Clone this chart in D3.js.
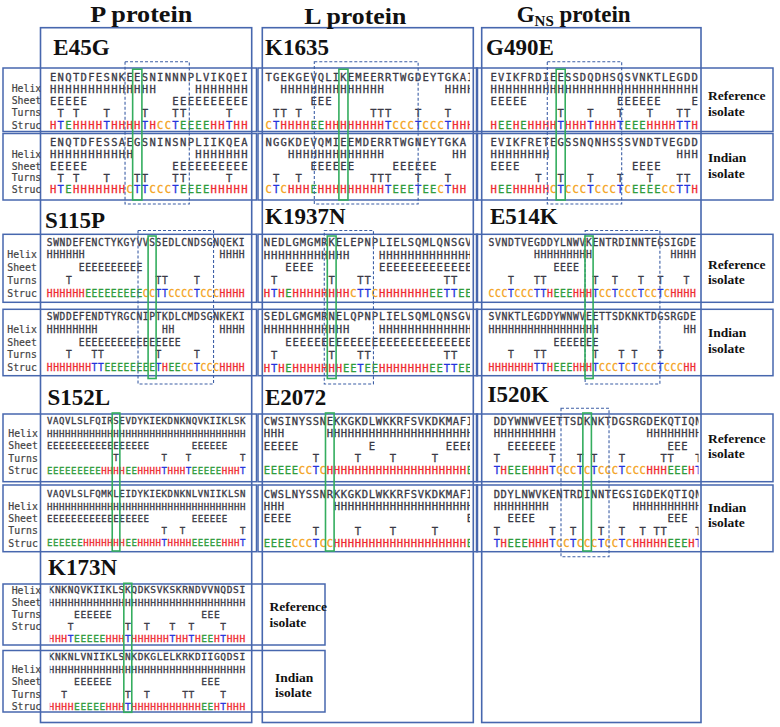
<!DOCTYPE html>
<html><head><meta charset="utf-8">
<script src="https://cdn.jsdelivr.net/npm/d3@7"></script>
<style>body{margin:0;background:#fff}</style>
</head><body>
<svg id="c" width="780" height="727"></svg>
<script>
// ===================== DATA =====================
const proteinTitles = ["P protein", "L protein", "GNS protein"];
const trackNames = ["Helix", "Sheet", "Turns", "Struc"];
const isolateNames = [["Reference", "isolate"], ["Indian", "isolate"]];

const mutationLabels = ["E45G","S115P","S152L","K173N","K1635","K1937N","E2072","G490E","E514K","I520K"];
const mutationColumn = [0,0,0,0,1,1,1,2,2,2];
const mutationRow    = [0,1,2,3,0,1,2,0,1,2];
const mutationSite   = [11,16,11,12,10,9,9,9,15,13];
const windowSpan     = [[9.9,18.3],[14.3,26.1],null,null,[6.6,20.5],[8.47,15.3],null,[7.7,17.7],[14.9,26.4],[9.74,16.65]];

// [sequence, helix runs, sheet runs, turn positions, structure string]
const E45G_ref  = ["ENQTDFESNKEESNINNNPLVIKQEI", [[0,13],[19,25]], [[0,4],[16,25]], [1,3,7,12,16,17,23], "HTEHHHHTHHHHTHCCTEEEEHHTHH"];
const E45G_ind  = ["ENQTDFESSAEGSNINSNPLIIKQEA", [[0,10],[19,25]], [[0,4],[16,25]], [1,3,7,11,12,16,17,23], "HTEHHHHHHHCTTCCCTEEEEHHHHH"];
const S115P_ref = ["SWNDEFENCTYKGYVVSSEDLCNDSGNQEKI", [[0,5],[27,30]], [[5,14]], [3,17,18,23], "HHHHHHEEEEEEEEECCTTCCCCTCCCHHHH"];
const S115P_ind = ["SWDDEFENDTYRGCNIPTKDLCMDSGNKEKI", [[0,7],[18,19],[27,30]], [[5,20]], [3,7,8,17,23], "HHHHHHHTTEEEEEEEETHEECCTCCCHHHH"];
const S152L_ref = ["VAQVLSLFQIRSEVDYKIEKDNKNQVKIIKLSK", [[0,32]], [[0,16],[24,29]], [11,19,23,32], "EEEEEEEEEHHHHEEHHHHTHHHTEEEEEHHHT"];
const S152L_ind = ["VAQVLSLFQMKLEIDYKIEKDNKNLVNIIKLSN", [[0,32]], [[0,16],[24,29]], [19,22,32], "EEEEEEHHHHHHHEEHHHHTHHHHEEEEEHHHT"];
const K173N_ref = ["KNKNQVKIIKLSKQDKSVKSKRNDVVNQDSI", [[0,30]], [[4,9],[24,26]], [3,12,15,19,22,27], "HHHTEEEEEHHHTHHHHHHTHHTHEEHTHHH"];
const K173N_ind = ["KNKNLVNIIKLSNKDKGLELKRKDIIGQDSI", [[0,30]], [[4,9],[24,26]], [2,12,15,21,22,27], "HHHHEEEEEHHHTHHHHHHHHHHHEEHTHHH"];
const K1635_ref = ["TGEKGEVQLIKEMEERRTWGDEYTGKAI", [[2,15],[24,27]], [[6,8]], [1,2,4,14,15,16,20,24], "CTHHHHEEHHHHHHHHTCCCTCCCTHHH"];
const K1635_ind = ["NGGKDEVQMIEEMDERRTWGNEYTGKA", [[3,15],[25,26]], [[6,11],[17,22]], [1,4,14,15,16,20,24], "CTCHHHEHHHHHHHHHTEEETEECTHH"];
const K1937N_ref = ["NEDLGMGMRKELEPNPLIELSQMLQNSGV", [[0,11],[16,28]], [[3,6],[16,28]], [1,9,13,14,25,26], "HTHEHHHHHHHHCTTCHHHHHHHEETTEE"];
const K1937N_ind = ["SEDLGMGMRNELQPNPLIELSQMLQNSGV", [[0,11],[16,28]], [[3,28]], [1,9,13,14,25,26], "HTHEHHHHHHHEETEEHHHHHHHEETTEE"];
const E2072_ref = ["CWSINYSSNEKKGKDLWKKRFSVKDKMAFI", [[0,2],[9,29]], [[0,4],[15,15],[26,29]], [7,13,18,24], "EEEEECCTCHHHHHHHHHHHHHHHHHHHHE"];
const E2072_ind = ["CWSLNYSSNRKKGKDLWKKRFSVKDKMAFI", [[0,2],[10,29]], [[0,3],[29,29]], [7,13,18,24], "EEEECCCTCCHHHHHHHHHHHHHHHHHHHE"];
const G490E_ref = ["EVIKFRDIEESSDQDHSQSVNKTLEGDD", [[0,27]], [[0,4],[17,22],[27,27]], [9,13,17,21,25,26], "HEEHEHHHHTHHHTHHHTEEEHHHHTTH"];
const G490E_ind = ["EVIKFRETEGSSNQNHSSSVNDTVEGDD", [[0,7],[25,27]], [[0,3],[19,22]], [6,9,13,17,21,25,26], "HEEHHHHHCTCCCTCCCTCEEEECCTTH"];
const E514K_ref = ["SVNDTVEGDDYLNWVKENTRDINNTEGSIGDE", [[7,15],[28,31]], [[10,13]], [3,7,8,16,19,23,26,30], "CCCTCCCTTHEEEHHHTCCTCCCTCCTCHHHH"];
const E514K_ind = ["SVNKTLEGDDYWNWVEETTSDKNKTDGSRGDE", [[0,16],[30,31]], [[10,16]], [3,7,8,16,20,22,26], "HHHHHHHTTHEEEHHHTCCCTCTCCCTCCCHH"];
const I520K_ref = ["DDYWNWVEETTSDKNKTDGSRGDEKQTIQN", [[0,8],[22,29]], [[2,8],[25,27]], [0,8,12,14,18,24,25,29], "THEEEHHHTCCCTCTCCCTCCCHHHEEEHT"];
const I520K_ind = ["DDYLNWVKENTRDINNTEGSIGDEKQTIQN", [[0,7],[20,29]], [[2,5],[25,27]], [0,8,11,15,18,21,23,24,29], "THEEEHHHTCCTCCCTCCTCHHHHHEEEHT"];

const panelData = {
  E45G:[E45G_ref,E45G_ind], S115P:[S115P_ref,S115P_ind], S152L:[S152L_ref,S152L_ind], K173N:[K173N_ref,K173N_ind],
  K1635:[K1635_ref,K1635_ind], K1937N:[K1937N_ref,K1937N_ind], E2072:[E2072_ref,E2072_ind],
  G490E:[G490E_ref,G490E_ind], E514K:[E514K_ref,E514K_ind], I520K:[I520K_ref,I520K_ind]
};

// ===================== LAYOUT / STYLE =====================
const BLUE = "#4767ae", DASH = "#3d5fa6", GREEN = "#34ad5e", GRAY = "#3a3a46";
const strucColor = {H:"#ee2a30", E:"#2f9c3c", T:"#2433dc", C:"#f4a41e"};
const serif = "'Liberation Serif','Times New Roman',serif";
const mono = "'DejaVu Sans Mono',monospace";

const colBox = [[40.5,251.7],[262.3,473.3],[481.7,701]];
const colBoxY = [27.7, 722.5];
const colClipRight = [249, 470, 698.5];
const rowBoxX = [[3,256.5],[258,477.5],[476.5,773]];
const rowBoxXLast = [3,325];
const rowLayout = [
  {ref:[76.7,125], ind:[142.5,189.5], refBox:[68,131.5], indBox:[133.5,200], dash:[61.7,204], green:[69.2,200], trackX:11.7, refShift:0},
  {ref:[242,293], ind:[316.5,367.7], refBox:[234.3,302.3], indBox:[309.3,375.7], dash:[230.5,384], green:[236,378.5], trackX:7.3, refShift:0},
  {ref:[421,470.5], ind:[494,543], refBox:[414,481.7], indBox:[485,551.7], dash:[408.3,556.7], green:[413,551], trackX:8.3, refShift:0},
  {ref:[590,638.5], ind:[656.7,706.7], refBox:[584,645], indBox:[650.5,712], dash:null, green:[583.3,712.3], trackX:11.7, refShift:1}
];
const panelLayout = {
  E45G:{x0:49.3,w:7.65,lx:53.3,ly:55},   S115P:{x0:46.5,w:6.4,lx:45,ly:228},
  S152L:{x0:46.7,w:6.03,lx:47.5,ly:405}, K173N:{x0:48.3,w:6.36,lx:48,ly:575,clipLeft:49.8},
  K1635:{x0:265,w:7.47,lx:265,ly:55},    K1937N:{x0:263.3,w:7.2,lx:265,ly:223.5},
  E2072:{x0:263.3,w:7.0,lx:265,ly:405},  G490E:{x0:490,w:7.44,lx:486,ly:54.5},
  E514K:{x0:488.3,w:6.5,lx:490,ly:223.5},I520K:{x0:493.3,w:6.95,lx:487.5,ly:402}
};
const isoLabelPos = [
  {xr:708, xi:708, ref:[95.7,111], ind:[157.7,173.3]},
  {xr:708, xi:708, ref:[264.3,279.3], ind:[332.7,348.3]},
  {xr:708, xi:708, ref:[438.3,453.3], ind:[507.3,522.7]},
  {xr:269.5, xi:275, ref:[606.7,622], ind:[677.5,692.7]}
];

// ===================== DRAW =====================
const svg = d3.select("#c");
const defs = svg.append("defs");

// row boxes
rowLayout.forEach((r, ri) => {
  const xs = ri === 3 ? [rowBoxXLast] : rowBoxX;
  xs.forEach(([a,b]) => {
    [r.refBox, r.indBox].forEach(([y0,y1]) => {
      svg.append("rect").attr("x",a).attr("y",y0).attr("width",b-a).attr("height",y1-y0)
        .attr("fill","none").attr("stroke",BLUE).attr("stroke-width",1.5);
    });
  });
});
// column boxes
colBox.forEach(([a,b]) => {
  svg.append("rect").attr("x",a).attr("y",colBoxY[0]).attr("width",b-a).attr("height",colBoxY[1]-colBoxY[0])
    .attr("fill","none").attr("stroke",BLUE).attr("stroke-width",1.6);
});

// column titles
svg.append("text").attr("x",141.3).attr("y",22).attr("text-anchor","middle")
  .attr("font-family",serif).attr("font-weight","bold").attr("font-size",23)
  .attr("textLength",102).attr("lengthAdjust","spacingAndGlyphs").attr("fill","#111").text(proteinTitles[0]);
svg.append("text").attr("x",355.3).attr("y",23.5).attr("text-anchor","middle")
  .attr("font-family",serif).attr("font-weight","bold").attr("font-size",23)
  .attr("textLength",102).attr("lengthAdjust","spacingAndGlyphs").attr("fill","#111").text(proteinTitles[1]);
{
  const t = svg.append("text").attr("x",516.7).attr("y",21.5).attr("font-family",serif)
    .attr("font-weight","bold").attr("fill","#111");
  const parts = proteinTitles[2].match(/^G(NS)( .*)$/);
  t.append("tspan").attr("font-size",23).text("G");
  t.append("tspan").attr("font-size",15).attr("dy",4).text(parts[1]);
  t.append("tspan").attr("font-size",23).attr("dy",-4).text(parts[2]);
}

// track-name clip
defs.append("clipPath").attr("id","clipLab").append("rect").attr("x",0).attr("y",0).attr("width",40.5).attr("height",727);

const tracks5 = ["seq"].concat(trackNames);

function trackChars(rec) {
  const [seq, helix, sheet, turns, struc] = rec;
  const out = [];
  seq.split("").forEach((c,i) => out.push({t:"seq",i,c}));
  helix.forEach(([a,b]) => d3.range(a,b+1).forEach(i => out.push({t:"Helix",i,c:"H"})));
  sheet.forEach(([a,b]) => d3.range(a,b+1).forEach(i => out.push({t:"Sheet",i,c:"E"})));
  turns.forEach(i => out.push({t:"Turns",i,c:"T"}));
  struc.split("").forEach((c,i) => out.push({t:"Struc",i,c}));
  return out;
}

mutationLabels.forEach((name, k) => {
  const col = mutationColumn[k], row = mutationRow[k];
  const L = panelLayout[name], R = rowLayout[row];
  const x = d3.scaleLinear().domain([0,1]).range([L.x0, L.x0 + L.w]);
  const fs = Math.min(10.5, L.w * 1.5);
  const clipLeft = L.clipLeft !== undefined ? L.clipLeft : colBox[col][0] + 0.5;
  const cid = "clip-" + name;
  defs.append("clipPath").attr("id",cid).append("rect")
    .attr("x",clipLeft).attr("y",0).attr("width",colClipRight[col]-clipLeft).attr("height",727);

  // mutation label
  svg.append("text").attr("x",L.lx).attr("y",L.ly).attr("font-family",serif).attr("font-weight","bold")
    .attr("font-size",23).attr("fill","#111").text(name);

  const g = svg.append("g").attr("clip-path",`url(#${cid})`);
  panelData[name].forEach((rec, iso) => {
    const y = d3.scalePoint().domain(tracks5).range(iso === 0 ? R.ref : R.ind);
    g.append("g").selectAll("text").data(trackChars(rec)).join("text")
      .attr("x", d => x(d.i + 0.5))
      .attr("y", d => y(d.t) + fs * 0.365)
      .attr("text-anchor","middle")
      .attr("font-family",mono).attr("font-size",fs)
      .attr("fill", d => d.t === "Struc" ? (strucColor[d.c] || GRAY) : GRAY)
      .attr("stroke", d => d.t === "Struc" ? (strucColor[d.c] || GRAY) : GRAY)
      .attr("stroke-width",0.3)
      .text(d => d.c);

    if (col === 0) {
      const shift = iso === 0 ? R.refShift : 0;
      svg.append("g").attr("clip-path","url(#clipLab)").selectAll("text").data(trackNames).join("text")
        .attr("x", R.trackX)
        .attr("y", (d,j) => y(tracks5[j + 1 - shift]) + 3.5)
        .attr("font-family",mono).attr("font-size",9.8).attr("fill","#444")
        .attr("stroke","#444").attr("stroke-width",0.2)
        .text(d => d);
    }
  });

  // dashed window
  const span = windowSpan[k];
  if (span && R.dash) {
    svg.append("rect").attr("x",x(span[0])).attr("y",R.dash[0])
      .attr("width",x(span[1]) - x(span[0])).attr("height",R.dash[1]-R.dash[0])
      .attr("fill","none").attr("stroke",DASH).attr("stroke-width",1.1).attr("stroke-dasharray","3,2");
  }
  // mutation site highlight
  const s = mutationSite[k];
  svg.append("rect").attr("x",x(s) - 0.8).attr("y",R.green[0])
    .attr("width",x(s+1) - x(s) + 1.6).attr("height",R.green[1]-R.green[0])
    .attr("fill","none").attr("stroke",GREEN).attr("stroke-width",1.6);
});

// isolate labels
isoLabelPos.forEach(p => {
  [[p.xr,p.ref,isolateNames[0]],[p.xi,p.ind,isolateNames[1]]].forEach(([xx,ys,names]) => {
    names.forEach((nm,j) => {
      svg.append("text").attr("x",xx).attr("y",ys[j] + 4.5).attr("font-family",serif)
        .attr("font-weight","bold").attr("font-size",13.5).attr("fill","#111").text(nm);
    });
  });
});
</script>
</body></html>
